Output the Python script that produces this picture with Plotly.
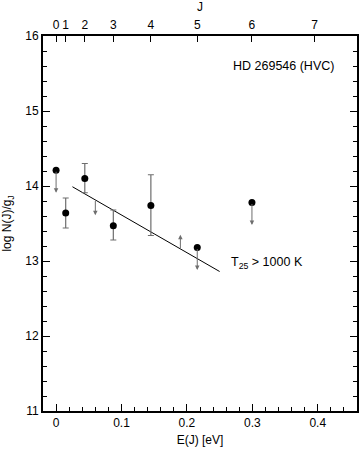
import plotly.graph_objects as go

# H2 rotational level energies (eV) for J = 0..7
j_levels = [0, 1, 2, 3, 4, 5, 6, 7]
e_levels = [0.0, 0.0147, 0.0439, 0.0875, 0.1449, 0.2158, 0.2994, 0.3952]

# detections with error bars
det_x = [0.0147, 0.0439, 0.0875, 0.1449]
det_y = [13.64, 14.10, 13.47, 13.74]
det_hi = [0.20, 0.20, 0.21, 0.41]
det_lo = [0.20, 0.19, 0.19, 0.40]

# upper limits (dot + downward arrow)
lim_x = [0.0, 0.2158, 0.2994]
lim_y = [14.21, 13.18, 13.78]

# bare arrows without a point
arr_x = [0.060, 0.190]
arr_y0 = [13.82, 13.15]
arr_y1 = [13.61, 13.35]

# excitation temperature fit line
fit_x = [0.025, 0.250]
fit_y = [13.99, 12.86]

grey = "#6e6e6e"
font = "Liberation Sans, Arial, sans-serif"

fig = go.Figure()

fig.add_trace(go.Scatter(
    x=fit_x, y=fit_y, mode="lines",
    line=dict(color="black", width=1), showlegend=False))

fig.add_trace(go.Scatter(
    x=det_x, y=det_y, mode="markers",
    marker=dict(color="black", size=7),
    error_y=dict(type="data", array=det_hi, arrayminus=det_lo,
                 color=grey, thickness=1.2, width=3),
    showlegend=False))

fig.add_trace(go.Scatter(
    x=lim_x, y=lim_y, mode="markers",
    marker=dict(color="black", size=7), showlegend=False))

# dummy trace for top axis
fig.add_trace(go.Scatter(x=e_levels, y=[None] * len(e_levels), xaxis="x2",
                         mode="markers", showlegend=False, hoverinfo="skip"))

arrow_len = 0.30
for x, y in zip(lim_x, lim_y):
    fig.add_annotation(x=x, y=y - arrow_len, ax=x, ay=y, xref="x", yref="y",
                       axref="x", ayref="y", showarrow=True, arrowhead=2,
                       arrowsize=0.9, arrowwidth=1, arrowcolor=grey, text="")
for x, y0, y1 in zip(arr_x, arr_y0, arr_y1):
    fig.add_annotation(x=x, y=y1, ax=x, ay=y0, xref="x", yref="y",
                       axref="x", ayref="y", showarrow=True, arrowhead=2,
                       arrowsize=0.9, arrowwidth=1, arrowcolor=grey, text="")

fig.add_annotation(x=0.268, y=15.60, xref="x", yref="y", showarrow=False,
                   text="HD 269546 (HVC)", xanchor="left",
                   font=dict(size=12.5, color="black", family=font))
fig.add_annotation(x=0.265, y=12.97, xref="x", yref="y", showarrow=False,
                   text="T<sub>25</sub> > 1000 K", xanchor="left",
                   font=dict(size=12.5, color="black", family=font))

axis_common = dict(showgrid=False, zeroline=False, showline=True, automargin=False,
                   linecolor="black", linewidth=2, ticks="inside",
                   tickcolor="black", tickfont=dict(size=12, family=font, color="black"))

fig.update_layout(
    width=359, height=452, autosize=False,
    margin=dict(l=43, r=2, t=36, b=41),
    plot_bgcolor="white", paper_bgcolor="white",
    font=dict(family=font, size=12, color="black"),
    xaxis=dict(range=[-0.02, 0.46], tickvals=[0, 0.1, 0.2, 0.3, 0.4],
               ticktext=["0", "0.1", "0.2", "0.3", "0.4"], ticklen=7, tickwidth=1,
               minor=dict(dtick=0.02, ticklen=4, tickcolor="black", ticks="inside"),
               title=dict(text="E(J) [eV]", standoff=6, font=dict(size=12)),
               **axis_common),
    xaxis2=dict(range=[-0.02, 0.46], overlaying="x", side="top",
                tickvals=e_levels, ticktext=[str(j) for j in j_levels],
                ticklen=6, tickwidth=1,
                title=dict(text="J", standoff=4, font=dict(size=12)),
                **axis_common),
    yaxis=dict(range=[11, 16], dtick=1, ticklen=7, tickwidth=1, mirror="ticks",
               minor=dict(dtick=0.2, ticklen=4, tickcolor="black", ticks="inside"),
               title=dict(text="log N(J)/g<sub>J</sub>", standoff=12, font=dict(size=12)),
               **axis_common),
)

# drop the page margin so the figure sits at the window's top-left corner
fix_page = ("document.body.style.margin='0';"
            "document.body.style.overflow='hidden';"
            "Plotly.relayout('{plot_id}', {width: 359, height: 452});")

fig.write_html("out.html", config={"responsive": False, "displayModeBar": False},
               post_script=fix_page)
